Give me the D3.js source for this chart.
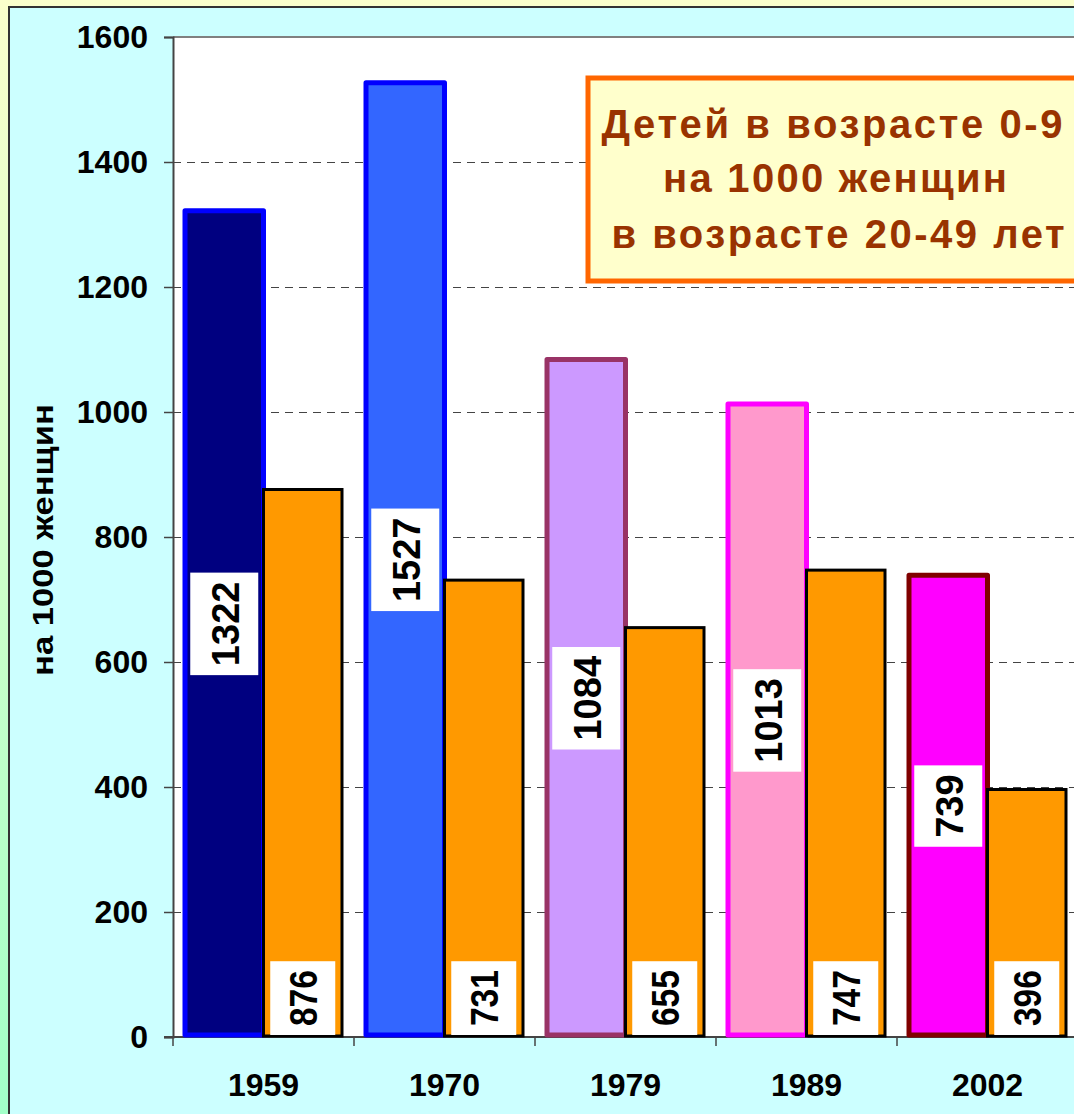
<!DOCTYPE html>
<html>
<head>
<meta charset="utf-8">
<script src="https://cdn.jsdelivr.net/npm/d3@7"></script>
<style>
    body { margin: 0; }
    text { font-family: Arial, "Liberation Sans", sans-serif; font-weight: bold; }
</style>
</head>
<body>
<div id="chart"></div>
<script>
var years = ["1959", "1970", "1979", "1989", "2002"];
var children = [1322, 1527, 1084, 1013, 739];
var women = [876, 731, 655, 747, 396];
var yTicks = [0, 200, 400, 600, 800, 1000, 1200, 1400, 1600];
var titleLines = ["Детей в возрасте 0-9", "на 1000 женщин", "в возрасте 20-49 лет"];
var yTitle = "на 1000 женщин";

var childFill = ["#000080", "#3366ff", "#cc99ff", "#ff99cc", "#ff00ff"];
var childStroke = ["#0000ff", "#0000ff", "#993366", "#ff00ff", "#800000"];

var width = 1074, height = 1114;
var pLeft = 173, pTop = 37, pBottom = 1037, pRight = 1078;

var svg = d3.select("#chart").append("svg")
        .attr("width", width)
        .attr("height", height);

// background
var grad = svg.append("defs").append("linearGradient")
        .attr("id", "bg")
        .attr("x1", 0).attr("y1", 0).attr("x2", 0).attr("y2", 1);
grad.append("stop").attr("offset", "0%").attr("stop-color", "#fbffcc");
grad.append("stop").attr("offset", "100%").attr("stop-color", "#a2ffc8");

svg.append("rect").attr("width", width).attr("height", height).attr("fill", "url(#bg)");
svg.append("rect")
        .attr("x", 9).attr("y", 7)
        .attr("width", 1200).attr("height", 1300)
        .attr("fill", "#ccffff")
        .attr("stroke", "#333").attr("stroke-width", 2);

// plot area
svg.append("rect")
        .attr("x", pLeft).attr("y", pTop)
        .attr("width", 1000).attr("height", pBottom - pTop)
        .attr("fill", "#fff");
svg.append("line")
        .attr("x1", pLeft).attr("x2", width)
        .attr("y1", pTop).attr("y2", pTop)
        .attr("stroke", "#808080").attr("stroke-width", 2);

var y = d3.scaleLinear().domain([0, 1600]).range([pBottom, pTop]);
var x = d3.scaleBand().domain(years).range([pLeft, pRight]);
var xs = d3.scaleBand().domain([0, 1]).range([12, 169]);

// grid
svg.append("g").selectAll("line")
        .data(yTicks.filter(function (d) { return d > 0 && d < 1600; }))
        .enter().append("line")
        .attr("x1", pLeft).attr("x2", width)
        .attr("y1", function (d) { return Math.round(y(d)) + 0.5; })
        .attr("y2", function (d) { return Math.round(y(d)) + 0.5; })
        .attr("stroke", "#444")
        .attr("stroke-dasharray", "8,6");

// y axis
var yAxis = svg.append("g")
        .attr("transform", "translate(" + pLeft + ",0)")
        .call(d3.axisLeft(y).tickValues(yTicks).tickFormat(d3.format("d")).tickSize(9).tickPadding(16));
yAxis.select(".domain").attr("stroke", "#444").attr("stroke-width", 2);
yAxis.selectAll(".tick line").attr("stroke", "#444").attr("stroke-width", 1.5);
yAxis.selectAll("text").attr("font-size", 32).attr("fill", "#000")
        .style("font-family", "Arial, 'Liberation Sans', sans-serif");

// x axis
var xAxis = svg.append("g").attr("transform", "translate(0," + pBottom + ")");
xAxis.append("line")
        .attr("x1", pLeft - 9).attr("x2", width)
        .attr("stroke", "#444").attr("stroke-width", 2);
xAxis.selectAll(".xt")
        .data(years.map(function (d) { return x(d); }).concat([pRight]))
        .enter().append("line")
        .attr("x1", function (d) { return d; })
        .attr("x2", function (d) { return d; })
        .attr("y1", 0).attr("y2", 9)
        .attr("stroke", "#444").attr("stroke-width", 1.5);
xAxis.selectAll(".xl")
        .data(years)
        .enter().append("text")
        .attr("x", function (d) { return x(d) + x.bandwidth() / 2; })
        .attr("y", 59)
        .attr("text-anchor", "middle")
        .attr("font-size", 32)
        .text(function (d) { return d; });

// bars
var g = svg.append("g");
g.selectAll(".child")
        .data(children)
        .enter().append("rect")
        .attr("x", function (d, i) { return x(years[i]) + xs(0); })
        .attr("y", function (d) { return y(d); })
        .attr("width", xs.bandwidth())
        .attr("height", function (d) { return pBottom - y(d) - 2; })
        .attr("fill", function (d, i) { return childFill[i]; })
        .attr("stroke", function (d, i) { return childStroke[i]; })
        .attr("stroke-width", 5)
        .attr("stroke-linejoin", "round");

g.selectAll(".women")
        .data(women)
        .enter().append("rect")
        .attr("x", function (d, i) { return x(years[i]) + xs(1); })
        .attr("y", function (d) { return y(d); })
        .attr("width", xs.bandwidth())
        .attr("height", function (d) { return pBottom - y(d) - 1; })
        .attr("fill", "#ff9900")
        .attr("stroke", "#000")
        .attr("stroke-width", 3);

// labels
function label(cx, cy, value, boxW, anchorBottom, squeeze) {
    var fs = 38;
    var len = String(value).length * fs * 0.556 * squeeze;
    var boxH = len + 18;
    var top0 = anchorBottom ? cy - boxH : cy - boxH / 2;
    g.append("rect")
            .attr("x", cx - boxW / 2).attr("y", top0)
            .attr("width", boxW).attr("height", boxH)
            .attr("fill", "#fff");
    g.append("text")
            .attr("transform", "translate(" + (cx + 1) + "," + (top0 + boxH / 2) + ") rotate(-90) scale(" + squeeze + ",1)")
            .attr("text-anchor", "middle")
            .attr("dy", "0.36em")
            .attr("font-size", fs)
            .text(value);
}

children.forEach(function (d, i) {
    var cx = x(years[i]) + xs(0) + xs.bandwidth() / 2;
    label(cx, (y(d) + pBottom) / 2, d, 68, false, 1);
});
women.forEach(function (d, i) {
    var cx = x(years[i]) + xs(1) + xs.bandwidth() / 2;
    label(cx, pBottom - 2, d, 65, true, 0.88);
});

// y title
svg.append("text")
        .attr("transform", "translate(42,540) rotate(-90)")
        .attr("text-anchor", "middle")
        .attr("dy", "0.36em")
        .attr("font-size", 30)
        .attr("textLength", 272)
        .attr("lengthAdjust", "spacingAndGlyphs")
        .text(yTitle);

// title box
svg.append("rect")
        .attr("x", 588).attr("y", 78)
        .attr("width", 520).attr("height", 203)
        .attr("fill", "#ffffcc")
        .attr("stroke", "#ff6600").attr("stroke-width", 5);

var lineX = [832, 835, 838];
var lineY = [138, 192, 248];
var lineW = [461, 344, 453];
svg.append("g").selectAll("text")
        .data(titleLines)
        .enter().append("text")
        .attr("x", function (d, i) { return lineX[i]; })
        .attr("y", function (d, i) { return lineY[i]; })
        .attr("text-anchor", "middle")
        .attr("font-size", 40)
        .attr("fill", "#993300")
        .attr("textLength", function (d, i) { return lineW[i]; })
        .attr("lengthAdjust", "spacing")
        .text(function (d) { return d; });
</script>
</body>
</html>
